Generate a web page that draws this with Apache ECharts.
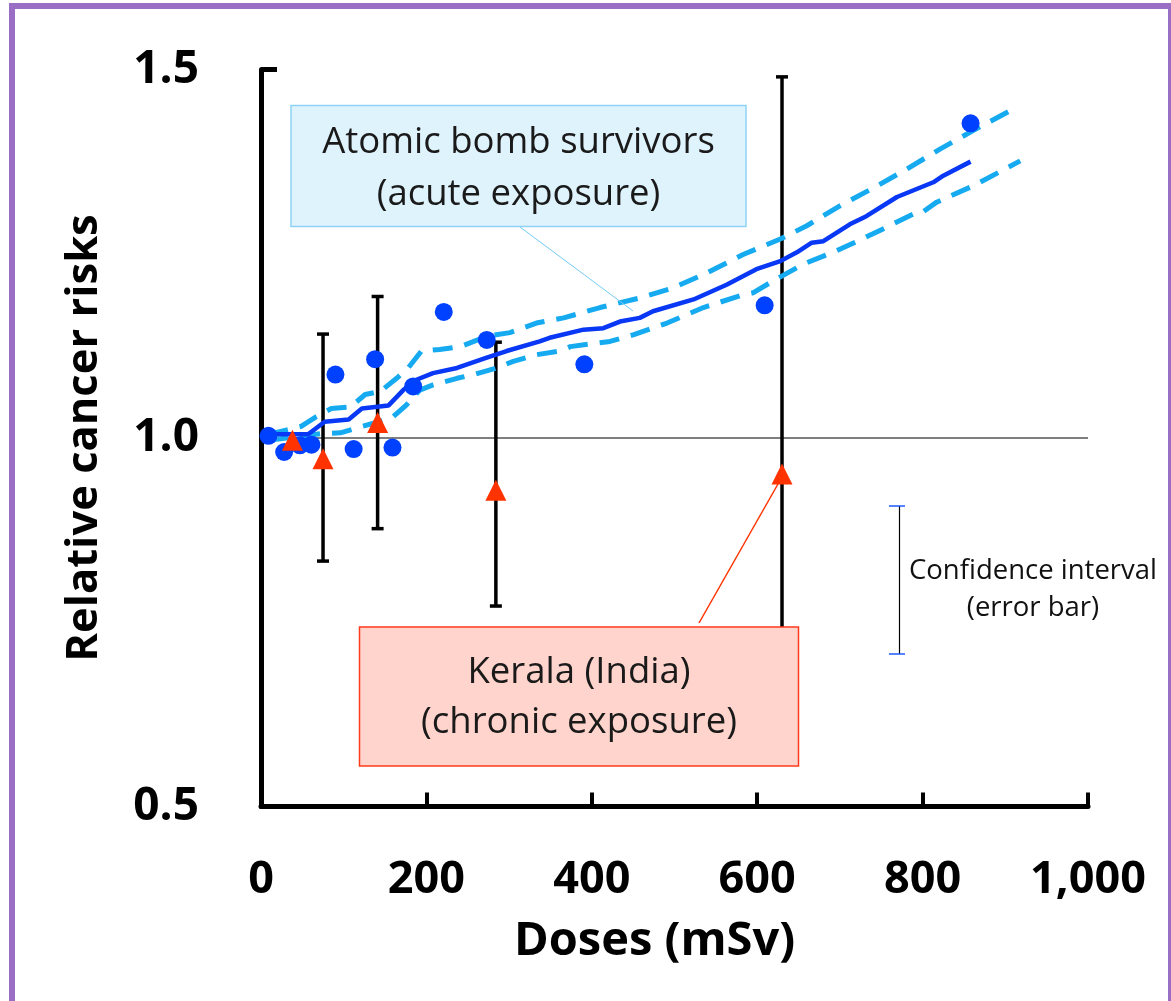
<!DOCTYPE html>
<html>
<head>
<meta charset="utf-8">
<script src="https://cdn.jsdelivr.net/npm/echarts@6/dist/echarts.min.js"></script>
<style>
html,body{margin:0;padding:0;background:#fff;}
#chart{width:1171px;height:1001px;}
</style>
</head>
<body>
<div id="chart"></div>
<script>
// ---- data ----
const xTickValues = [0, 200, 400, 600, 800, 1000];
const xTickLabels = ['0', '200', '400', '600', '800', '1,000'];
const yTickValues = [0.5, 1.0, 1.5];
const yTickLabels = ['0.5', '1.0', '1.5'];

// Atomic bomb survivors (points)
const bombDose = [9, 28, 47, 61, 90, 112, 138, 159, 184, 221, 273, 391, 609, 858];
const bombRisk = [1.003, 0.981, 0.990, 0.991, 1.086, 0.985, 1.107, 0.987, 1.070, 1.171, 1.133, 1.100, 1.180, 1.427];

// fitted curve and confidence band
const fitDose = [9, 19, 57, 77, 106, 122, 154, 172, 188, 208, 237, 273, 297, 337, 349, 390, 414, 434, 458, 474, 523, 563, 599, 628, 648, 666, 680, 712, 732, 769, 813, 825, 858];
const fitRisk = [1.003, 1.005, 1.005, 1.022, 1.025, 1.040, 1.044, 1.065, 1.079, 1.088, 1.095, 1.109, 1.118, 1.131, 1.136, 1.147, 1.149, 1.158, 1.163, 1.172, 1.188, 1.208, 1.229, 1.240, 1.252, 1.265, 1.267, 1.290, 1.301, 1.327, 1.347, 1.356, 1.375];
const upDose = [9, 49, 67, 85, 108, 126, 144, 164, 178, 194, 216, 241, 273, 301, 333, 366, 410, 458, 499, 539, 583, 628, 660, 700, 745, 781, 821, 861, 914];
const upRisk = [1.005, 1.016, 1.029, 1.040, 1.042, 1.059, 1.063, 1.081, 1.095, 1.118, 1.120, 1.124, 1.138, 1.143, 1.156, 1.163, 1.177, 1.190, 1.204, 1.224, 1.249, 1.270, 1.288, 1.315, 1.342, 1.365, 1.392, 1.417, 1.449];
const loDose = [9, 73, 96, 120, 136, 160, 176, 192, 208, 237, 257, 285, 305, 333, 362, 374, 422, 450, 491, 535, 579, 595, 619, 656, 696, 740, 789, 797, 817, 861, 918];
const loRisk = [0.997, 1.006, 1.007, 1.015, 1.020, 1.029, 1.045, 1.065, 1.072, 1.081, 1.086, 1.095, 1.104, 1.113, 1.118, 1.124, 1.131, 1.140, 1.156, 1.177, 1.193, 1.197, 1.213, 1.236, 1.254, 1.277, 1.304, 1.304, 1.320, 1.342, 1.376];

// Kerala (points and error bars)
const keralaDose = [38, 75, 141, 284, 630];
const keralaRisk = [0.997, 0.972, 1.021, 0.929, 0.951];
const errDose = [75, 141, 284, 630];
const errLow = [0.833, 0.877, 0.772, 0.62];
const errHigh = [1.141, 1.192, 1.130, 1.490];

// reference line at risk 1.0
const refDose = [0, 1000];
const refRisk = [1.0, 1.0];

// ---- build ----
const zip = (a, b) => a.map((v, i) => [v, b[i]]);
const chart = echarts.init(document.getElementById('chart'));
const labelFont = '"Open Sans", "Noto Sans", sans-serif';

chart.setOption({
  animation: false,
  backgroundColor: '#ffffff',
  grid: { left: 261, right: 83, top: 69.5, bottom: 194.5, containLabel: false },
  xAxis: {
    type: 'value', min: 0, max: 1000, interval: 200,
    name: 'Doses (mSv)', nameLocation: 'middle', nameGap: 112,
    nameTextStyle: { fontFamily: labelFont, fontWeight: 'bold', fontSize: 47, color: '#000', padding: [0, 40, 0, 0] },
    axisLine: { show: true, lineStyle: { color: '#000', width: 5 } },
    axisTick: { show: true, inside: true, length: 14, lineStyle: { color: '#000', width: 4 } },
    axisLabel: {
      margin: 51, fontFamily: labelFont, fontWeight: 'bold', fontSize: 45, color: '#000',
      formatter: v => xTickLabels[xTickValues.indexOf(v)]
    },
    splitLine: { show: false }
  },
  yAxis: {
    type: 'value', min: 0.5, max: 1.5, interval: 0.5,
    name: 'Relative cancer risks', nameLocation: 'middle', nameGap: 154, nameRotate: 90,
    nameTextStyle: { fontFamily: labelFont, fontWeight: 'bold', fontSize: 43.5, color: '#000' },
    axisLine: { show: true, lineStyle: { color: '#000', width: 5 } },
    axisTick: { show: true, inside: true, length: 16, lineStyle: { color: '#000', width: 5 } },
    axisLabel: {
      margin: 62, fontFamily: labelFont, fontWeight: 'bold', fontSize: 46, color: '#000',
      formatter: v => yTickLabels[yTickValues.findIndex(t => Math.abs(t - v) < 1e-9)]
    },
    splitLine: { show: false }
  },
  series: [
    {
      name: 'ref', type: 'line', data: zip(refDose, refRisk), z: 1,
      symbol: 'none', lineStyle: { color: '#000', width: 1.2 }, silent: true
    },
    {
      name: 'Error bars', type: 'custom', z: 2,
      data: errDose.map((d, i) => [d, errLow[i], errHigh[i]]),
      renderItem: function (params, api) {
        const x = api.value(0);
        const lo = api.coord([x, api.value(1)]);
        const hi = api.coord([x, api.value(2)]);
        const hw = 6;
        const st = { stroke: '#000', lineWidth: 3.5 };
        return {
          type: 'group',
          children: [
            { type: 'line', shape: { x1: lo[0], y1: lo[1], x2: hi[0], y2: hi[1] }, style: st },
            { type: 'line', shape: { x1: hi[0] - hw, y1: hi[1], x2: hi[0] + hw, y2: hi[1] }, style: st },
            { type: 'line', shape: { x1: lo[0] - hw, y1: lo[1], x2: lo[0] + hw, y2: lo[1] }, style: st }
          ]
        };
      }
    },
    {
      name: 'Upper CI', type: 'line', data: zip(upDose, upRisk), z: 3, symbol: 'none',
      lineStyle: { color: '#16AAF0', width: 5, type: [20, 12], opacity: 1 }
    },
    {
      name: 'Lower CI', type: 'line', data: zip(loDose, loRisk), z: 3, symbol: 'none',
      lineStyle: { color: '#16AAF0', width: 5, type: [20, 12], opacity: 1 }
    },
    {
      name: 'Fit', type: 'line', data: zip(fitDose, fitRisk), z: 4, symbol: 'none',
      lineStyle: { color: '#0838F5', width: 4.5, opacity: 1 }
    },
    {
      name: 'Atomic bomb survivors', type: 'scatter', data: zip(bombDose, bombRisk), z: 5,
      symbol: 'circle', symbolSize: 18, itemStyle: { color: '#0040FF', opacity: 1 }
    },
    {
      name: 'Kerala', type: 'scatter', data: zip(keralaDose, keralaRisk), z: 6,
      symbol: 'triangle', symbolSize: [21, 21], itemStyle: { color: '#FF3300', opacity: 1 }
    }
  ],
  graphic: [
    // outer purple frame
    { type: 'rect', z: 200, silent: true, shape: { x: 12, y: 6, width: 1159, height: 1010 },
      style: { fill: 'none', stroke: '#9B6EC6', lineWidth: 6 } },
    // Atomic bomb annotation
    { type: 'line', z: 90, shape: { x1: 520, y1: 227, x2: 633, y2: 311 },
      style: { stroke: '#74CCF4', lineWidth: 1 } },
    { type: 'rect', z: 100, shape: { x: 291, y: 105.5, width: 455, height: 121 },
      style: { fill: '#DFF3FD', stroke: '#8ED3F5', lineWidth: 1.5 } },
    { type: 'text', z: 101, style: { text: 'Atomic bomb survivors\n(acute exposure)', x: 518.5, y: 169,
      align: 'center', verticalAlign: 'middle', fontFamily: labelFont, fontSize: 36.5, lineHeight: 52, fill: '#1a1a1a' } },
    // Kerala annotation
    { type: 'line', z: 90, shape: { x1: 699, y1: 623, x2: 778, y2: 484 },
      style: { stroke: '#FF3300', lineWidth: 1.5 } },
    { type: 'rect', z: 100, shape: { x: 359.5, y: 627, width: 439, height: 139 },
      style: { fill: '#FFD4CC', stroke: '#FF3A1A', lineWidth: 1.5 } },
    { type: 'text', z: 101, style: { text: 'Kerala (India)\n(chronic exposure)', x: 579, y: 698,
      align: 'center', verticalAlign: 'middle', fontFamily: labelFont, fontSize: 36.5, lineHeight: 50, fill: '#1a1a1a' } },
    // confidence interval legend
    { type: 'line', z: 100, shape: { x1: 899.5, y1: 506, x2: 899.5, y2: 654 }, style: { stroke: '#000', lineWidth: 1.2 } },
    { type: 'line', z: 100, shape: { x1: 889, y1: 506, x2: 905, y2: 506 }, style: { stroke: '#1E5BFF', lineWidth: 1.5 } },
    { type: 'line', z: 100, shape: { x1: 889, y1: 654, x2: 905, y2: 654 }, style: { stroke: '#1E5BFF', lineWidth: 1.5 } },
    { type: 'text', z: 101, style: { text: 'Confidence interval\n(error bar)', x: 1033, y: 590,
      align: 'center', verticalAlign: 'middle', fontFamily: labelFont, fontSize: 27.5, lineHeight: 37, fill: '#111' } }
  ]
});
</script>
</body>
</html>
